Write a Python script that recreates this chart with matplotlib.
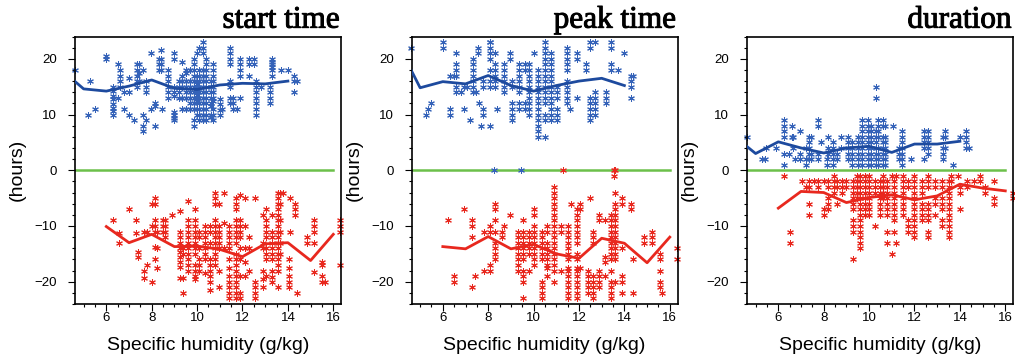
import matplotlib
matplotlib.use("Agg")
import matplotlib.pyplot as plt
import matplotlib.patheffects as pe
from matplotlib.ticker import MultipleLocator

# ---------------- data (columns: x value, list of y values) ----------------
start_pos = [
    (4.6, [18]), (5.2, [10]), (5.3, [16]), (5.5, [11]), (6.0, [20, 20.5]),
    (6.3, [15, 14.2, 13.3, 12.7, 11.9, 11.2, 10.7, 10]), (6.5, [19, 13]),
    (6.6, [18, 17, 16, 15]), (6.8, [14, 11]), (7.0, [16.5, 14, 10]), (7.2, [9]),
    (7.35, [19, 18, 17, 16, 15]), (7.45, [19, 17.5, 16]), (7.6, [18, 10, 8, 7]),
    (7.75, [16, 15, 14, 9]), (7.95, [21, 11]), (8.15, [12, 11.5, 8]),
    (8.3, [20, 19, 18]), (8.4, [21.5, 20, 19, 18]), (8.45, [11]),
    (8.7, [18, 17, 16, 15, 14, 13]), (9.0, [21, 20, 15, 14, 13.3, 10.5, 10, 9.3, 9]),
    (9.2, [16, 15, 14, 13]), (9.35, [19.5, 17, 16, 15, 13, 11]),
    (9.5, [18, 17.5, 16, 15, 14, 13, 11]), (9.7, [18, 16, 15, 14, 13, 12, 11]),
    (9.85, [20, 19, 18, 17, 16, 15, 14, 13, 12, 11, 9, 8]),
    (10.0, [21, 17, 16, 15.5, 15, 14.5, 14, 13.5, 13, 12.5, 12, 11, 10]),
    (10.1, [22, 18, 17, 16, 15, 14, 13, 12, 11, 10, 9]),
    (10.25, [23, 22, 21, 18, 17, 16, 15, 14, 13, 12, 11, 10, 9]),
    (10.4, [20, 19, 18, 17, 16, 15, 14, 13, 12, 11, 10, 9]),
    (10.6, [16, 15, 14, 13, 12, 11.5, 10, 9.5]),
    (10.7, [19, 18, 17, 16, 15, 14, 13, 12.5, 11, 10, 9]),
    (11.0, [12.7, 11.8, 10.9, 10]), (11.1, [11]),
    (11.45, [22, 21, 20, 19, 16, 15, 13, 12]), (11.6, [13, 12, 11]), (11.75, [11]),
    (11.9, [20, 19, 18, 17, 13]), (12.3, [20, 19, 17]), (12.5, [20, 19]),
    (12.6, [16, 15, 14, 13, 12, 11, 10]), (12.8, [15]), (13.2, [15, 14, 13, 12]),
    (13.3, [20, 19.5, 19, 18.5, 18, 17]), (13.7, [18]), (14.0, [18]),
    (14.25, [17, 16, 14]), (14.4, [16]),
]
start_neg = [
    (6.3, [-9]), (6.55, [-11.3, -13]), (7.0, [-7]), (7.3, [-9, -11.3]),
    (7.4, [-14.6, -15.5]), (7.65, [-11, -18, -19.4]), (7.8, [-11, -17]),
    (8.0, [-6, -10, -20]), (8.15, [-5, -6, -9, -10, -11, -13.7, -16]),
    (8.25, [-11, -14, -17.5]), (8.5, [-9, -10, -11]), (8.6, [-9, -10, -11, -12]),
    (8.9, [-8]), (9.25, [-7.4, -11, -12, -13, -14, -14.6, -15.5, -16.4, -17.3, -19.4]),
    (9.4, [-14, -15, -19.4, -22]),
    (9.6, [-5.5, -9, -10, -11, -12, -13, -14, -15, -16, -17, -18]),
    (9.9, [-7, -9, -10, -11, -12, -13, -14, -15, -17, -18, -19, -19.5]),
    (10.1, [-11, -12, -14, -16, -17, -18]),
    (10.35, [-10, -11, -12, -13, -14, -15, -16, -18.5]),
    (10.55, [-10, -11, -13, -16, -17, -18, -19, -20, -21.5]),
    (10.8, [-4, -5, -6, -9, -10, -11, -12, -13, -14, -15, -16, -17]),
    (10.95, [-6, -10, -11, -12, -13, -14, -18, -21]), (11.2, [-4, -9.5, -14]),
    (11.4, [-10, -11, -12, -13, -14, -16, -17.5, -19, -20, -21, -22, -23]),
    (11.7, [-5, -6, -7, -9, -10, -11, -12, -13, -15, -16, -17, -18, -19, -20, -21, -22, -23]),
    (11.9, [-4.5, -9, -10, -11, -12, -14, -16, -19, -22, -23]),
    (12.1, [-5, -10, -14, -16.5, -19]), (12.3, [-12, -14, -18]),
    (12.55, [-5, -20, -21, -22, -23]), (12.9, [-8, -13, -14, -18, -19.5, -21]),
    (13.05, [-7, -9, -10, -11, -12, -14, -15, -16, -19]),
    (13.3, [-8, -11, -12, -13, -14, -15, -16, -18, -19.2, -20]),
    (13.55, [-4, -5, -6, -7, -8, -9, -10, -11, -12, -13, -14, -15, -16, -17, -18, -21]),
    (13.65, [-4, -6, -9, -11, -13, -15]), (13.8, [-4]),
    (14.05, [-16, -17.5, -19, -20, -21]), (14.1, [-5, -11]), (14.3, [-6, -7, -8]),
    (14.4, [-22]), (14.85, [-12, -13]), (15.15, [-9, -10, -11, -13, -18.2]),
    (15.5, [-16.4, -17, -19, -20]), (15.65, [-20]), (16.3, [-9, -10, -11, -17]),
]
peak_pos = [
    (4.6, [22]), (5.25, [10]), (5.35, [11]), (5.5, [12]), (6.0, [23, 22]),
    (6.3, [17, 11, 10]), (6.5, [17]), (6.6, [21, 19, 18, 17, 15, 14]), (6.8, [14]),
    (6.95, [15, 11]), (7.05, [15]), (7.2, [9]), (7.35, [20, 19, 18, 17, 16, 15, 14]),
    (7.47, [14]), (7.55, [22, 21]), (7.6, [12]), (7.7, [8]), (7.75, [16, 15, 11, 10]),
    (8.1, [23, 23, 22, 21, 20, 18, 16, 15, 8]), (8.3, [21, 19, 18, 17, 16, 15]),
    (8.4, [11]), (8.7, [19, 18, 17, 16, 15, 14]), (8.95, [21, 20]),
    (9.05, [16, 15, 12, 11, 10, 9]), (9.35, [19, 18, 17, 16, 15, 14, 12, 11]),
    (9.6, [19, 18, 12, 11]), (9.8, [19, 18, 17, 16, 15, 14, 13, 12, 11, 10]),
    (10.0, [21]), (10.2, [18, 17, 16, 15, 14, 13, 12, 11, 10, 9, 8, 7, 6]),
    (10.5, [23, 22, 21, 20, 19, 18, 17, 16, 15, 14, 13, 12, 10, 9, 6]),
    (10.75, [21, 20, 19, 18, 17, 16, 15, 14, 13, 12, 11, 10, 9]),
    (11.05, [15, 14, 13, 11, 10, 9]), (11.45, [22, 21, 20, 19, 18, 16, 15, 14, 13, 12]),
    (11.6, [11]), (11.9, [21, 20, 13]), (12.3, [19, 18]),
    (12.5, [23, 22, 13, 12, 11, 10, 9]), (12.7, [23, 14, 13, 12, 11, 10]),
    (13.2, [14, 13, 12]), (13.4, [23, 22, 19, 18]), (13.7, [18]), (14.0, [21]),
    (14.3, [17, 16, 15, 13]), (14.4, [17]), (8.25, [0]), (9.45, [0]),
]
peak_neg = [
    (6.25, [-9]), (6.5, [-19, -20]), (6.95, [-7]), (7.3, [-9, -10, -12, -21]),
    (7.4, [-19]), (7.8, [-11, -18]), (8.1, [-10, -11, -17, -18]),
    (8.3, [-6, -7, -9, -11, -13, -14, -15, -16]), (8.6, [-11, -12]), (8.7, [-10]),
    (8.95, [-8]), (9.3, [-11, -12, -13, -14, -15, -16, -17, -18]),
    (9.55, [-9, -11, -12, -13, -14, -15, -16, -18, -19, -20, -23]),
    (9.8, [-11, -12, -13, -14, -15, -18]),
    (10.0, [-7, -8, -10, -11, -12, -13, -14, -15, -16, -17]),
    (10.35, [-11, -12, -13, -14, -15, -16, -20, -21, -22, -23]),
    (10.6, [-10, -11, -13, -14, -15, -16, -17, -17.5, -19]),
    (10.9, [-3, -4, -5, -6, -7, -8, -9, -10, -11, -12, -13, -14, -15, -16, -17, -18, -20]),
    (11.2, [-10, -11, -18]),
    (11.5, [-10, -11, -12, -13, -14, -15, -16, -17.5, -18, -19, -20, -21, -22, -23]),
    (11.65, [-6]),
    (11.9, [-7, -8, -9, -10, -11, -12, -13, -15, -16, -17.5, -18, -19, -20, -21, -22, -23]),
    (12.05, [-6, -7, -17.5]), (12.4, [-18, -19, -20, -21, -22]), (12.5, [-5]),
    (12.6, [-11, -12, -13, -19, -20, -21, -22, -23]), (12.9, [-8, -9, -18, -19, -20, -21]),
    (13.15, [-9, -15.5, -16.5, -19]),
    (13.4, [-8, -9, -10, -11, -12, -13, -14, -15, -16, -18, -20, -21, -22, -23]),
    (13.6, [-4, -6, -7, -8, -9, -10, -11, -12, -13, -14, -15, -16, -20]),
    (13.9, [-5, -6, -14, -19, -20, -22]), (14.3, [-6, -7]), (14.4, [-16, -22]),
    (14.85, [-12, -13]), (15.2, [-11, -12, -13]), (15.55, [-15, -16, -18, -20, -21]),
    (15.65, [-22]), (16.3, [-14, -16]), (11.3, [0]), (13.55, [0, -1]), (13.6, [0]),
]
dur_pos = [
    (4.6, [6]), (5.3, [2]), (5.4, [2]), (5.45, [4]), (5.9, [4]),
    (6.25, [9, 8, 7, 6, 3, 1]), (6.45, [3]), (6.6, [8, 6]), (6.65, [6, 4]), (6.75, [2]),
    (6.95, [7, 3, 2]), (7.2, [4, 2, 1]), (7.35, [6, 5, 4, 3, 2]), (7.45, [6, 3, 2]),
    (7.75, [9, 8, 3, 2]), (7.9, [5]), (8.15, [2, 1]), (8.2, [6, 4, 3]),
    (8.4, [5, 4, 3, 2, 1]), (8.6, [3, 2]), (8.75, [6, 4]), (9.05, [6, 5, 4, 3, 2]),
    (9.25, [5, 4, 3, 2, 1]), (9.5, [6, 5, 4, 3, 2, 1]),
    (9.7, [9, 8, 7, 6, 5, 4, 3, 2, 1]), (9.95, [9, 8, 7, 6, 5, 4, 3, 2, 1]),
    (10.1, [8, 7, 6, 5, 4, 3, 2, 1]), (10.3, [15, 13, 7, 6, 5, 4, 3, 2, 1]),
    (10.4, [9, 8, 7, 6, 4, 3, 2, 1]), (10.6, [9, 8, 6, 5, 4, 3, 2, 1]),
    (10.7, [8, 6, 5, 4, 3, 2, 1]), (11.05, [8]), (11.3, [4, 3, 2]),
    (11.45, [7, 6, 5, 4, 3, 2, 1]), (11.85, [2]), (12.4, [7, 6, 5, 4, 2]),
    (12.6, [7, 6, 5, 4, 3]), (13.25, [6, 4, 3, 2]), (13.35, [7, 6, 4]), (13.7, [1]),
    (14.0, [6]), (14.25, [7, 6, 5, 4]), (14.4, [4]),
]
dur_neg = [
    (6.25, [-1]), (6.5, [-11, -13]), (7.05, [-2]), (7.2, [-3]), (7.35, [-6, -8, -2, -3]),
    (7.55, [-2]), (7.75, [-2, -3]), (8.0, [-7, -8, -2]), (8.2, [-5, -6, -7, -2, -3]),
    (8.45, [-1, -2, -3, -4]), (8.6, [-6, -2, -3]), (8.8, [-2, -3, -4]), (9.0, [-2, -3]),
    (9.3, [-5, -6, -7, -9, -10, -11, -16, -2, -3, -4]), (9.45, [-1, -2, -3, -4, -5]),
    (9.6, [-1, -2, -3, -4, -5, -6, -7, -8, -9, -10, -11, -12, -13, -14]),
    (9.8, [-1, -2, -3, -4, -5, -6, -7, -8]), (10.0, [-1, -2, -3, -4, -5, -6, -7, -8]),
    (10.25, [-2, -3, -4, -10]), (10.5, [-2, -3, -4, -5, -6, -7, -8]),
    (10.6, [-1, -2, -3, -4, -5]), (10.8, [-2, -3, -4, -5, -6, -7, -8, -11, -13]),
    (11.0, [-1, -15]), (11.1, [-2, -3, -4, -5, -6, -7, -8, -9, -11]), (11.2, [-1, -13]),
    (11.5, [-1, -2, -3, -4, -5, -6, -7, -8]), (11.7, [-2, -3, -9, -10, -11]),
    (12.0, [-1, -2, -3, -4, -5, -6, -7, -8, -9, -10, -11, -12]),
    (12.35, [-2, -3, -4, -6, -7, -8, -9]), (12.6, [-1, -2, -3, -6, -7, -8, -9, -11, -12]),
    (12.9, [-2, -3, -5, -6, -8]), (13.2, [-2, -3, -5, -6, -7, -9, -10]),
    (13.5, [-2, -3, -4, -5, -6, -7, -8, -9, -10, -11, -12]), (13.6, [-1, -2]),
    (13.9, [-1]), (14.0, [-3, -4, -7]), (14.3, [-2, -3]), (14.6, [-2]), (14.9, [-1, -2]),
    (15.1, [-3, -4]), (15.5, [-2, -5, -6]), (16.35, [-4, -5]),
]

# binned mean lines
pos_line_x = [4, 5, 6, 7, 8, 9, 10, 11, 12, 13, 14]
neg_line_x = [6, 7, 8, 9, 10, 11, 12, 13, 14, 15, 16]
start_pos_line = [18.1, 14.6, 14.2, 15.1, 16.2, 14.7, 14.5, 15.3, 15.6, 15.5, 16.0]
start_neg_line = [-10.1, -13.0, -11.5, -13.7, -13.6, -14.2, -15.5, -13.2, -13.0, -16.2, -11.5]
peak_pos_line = [22.8, 14.8, 15.9, 15.5, 17.0, 15.2, 14.2, 15.2, 16.0, 16.5, 15.2]
peak_neg_line = [-13.7, -14.1, -11.9, -14.1, -13.3, -15.0, -15.8, -12.2, -13.1, -16.6, -12.0]
dur_pos_line = [6.3, 3.0, 5.1, 4.0, 3.1, 4.0, 4.3, 3.2, 4.7, 4.7, 5.2]
dur_neg_line = [-6.8, -3.8, -4.0, -5.8, -4.9, -4.4, -5.3, -4.6, -2.5, -3.2, -3.7]

zero_x = [4, 16]
zero_y = [0, 0]

titles = ["start time", "peak time", "duration"]
xlabel = "Specific humidity (g/kg)"
ylabel = "(hours)"

# ---------------- styling ----------------
BLUE_PT = "#3462b8"
BLUE_LN = "#1d4a9e"
RED = "#e8281e"
GREEN = "#6cc04a"


def expand(cols):
    xs, ys = [], []
    for x, yl in cols:
        xs += [x] * len(yl)
        ys += list(yl)
    return xs, ys


W, H = 1015, 363
fig = plt.figure(figsize=(W / 100, H / 100), dpi=100)
lefts = [75, 411.5, 747]
ax_w, ax_top, ax_bot = 266, 36.5, 304

panels = [
    (start_pos, start_neg, start_pos_line, start_neg_line),
    (peak_pos, peak_neg, peak_pos_line, peak_neg_line),
    (dur_pos, dur_neg, dur_pos_line, dur_neg_line),
]

asterisk = (6, 2, 0)
for i, (pos, neg, pl, nl) in enumerate(panels):
    ax = fig.add_axes([lefts[i] / W, 1 - ax_bot / H, ax_w / W, (ax_bot - ax_top) / H])
    ax.plot(zero_x, zero_y, color=GREEN, lw=1.8, zorder=1)
    px, py = expand(pos)
    nx, ny = expand(neg)
    ax.scatter(px, py, marker=asterisk, s=18, color=BLUE_PT, linewidths=0.75, zorder=2, clip_on=False)
    ax.scatter(nx, ny, marker=asterisk, s=18, color=RED, linewidths=0.75, zorder=2, clip_on=False)
    ax.plot(pos_line_x, pl, color=BLUE_LN, lw=2.0, zorder=3)
    ax.plot(neg_line_x, nl, color=RED, lw=2.0, zorder=3)

    ax.set_xlim(4.62, 16.34)
    ax.set_ylim(-24, 24)
    ax.xaxis.set_major_locator(MultipleLocator(2))
    ax.xaxis.set_minor_locator(MultipleLocator(0.5))
    ax.yaxis.set_major_locator(MultipleLocator(10))
    ax.yaxis.set_minor_locator(MultipleLocator(2))
    ax.tick_params(which="both", direction="out", top=False, right=False, width=0.8,
                   labelsize=9.5, labelfontfamily="Liberation Sans")
    ax.tick_params(which="major", length=4.8)
    ax.tick_params(which="minor", length=2.4)
    ax.tick_params(axis="y", pad=8)
    ax.tick_params(axis="x", pad=1)
    for sp in ax.spines.values():
        sp.set_linewidth(1.2)

    ax.set_xlabel(xlabel, fontsize=14, family="Liberation Sans")
    ax.xaxis.set_label_coords(0.5, -0.125)
    ax.set_ylabel(ylabel, fontsize=14, family="Liberation Sans")
    ax.yaxis.set_label_coords(-0.185, 0.5)
    ax.text(0.995, 1.033, titles[i], transform=ax.transAxes, ha="right", va="baseline",
            fontsize=22.5, family="Liberation Serif",
            path_effects=[pe.withStroke(linewidth=0.7, foreground="black")])

fig.savefig("out.png", dpi=100)
